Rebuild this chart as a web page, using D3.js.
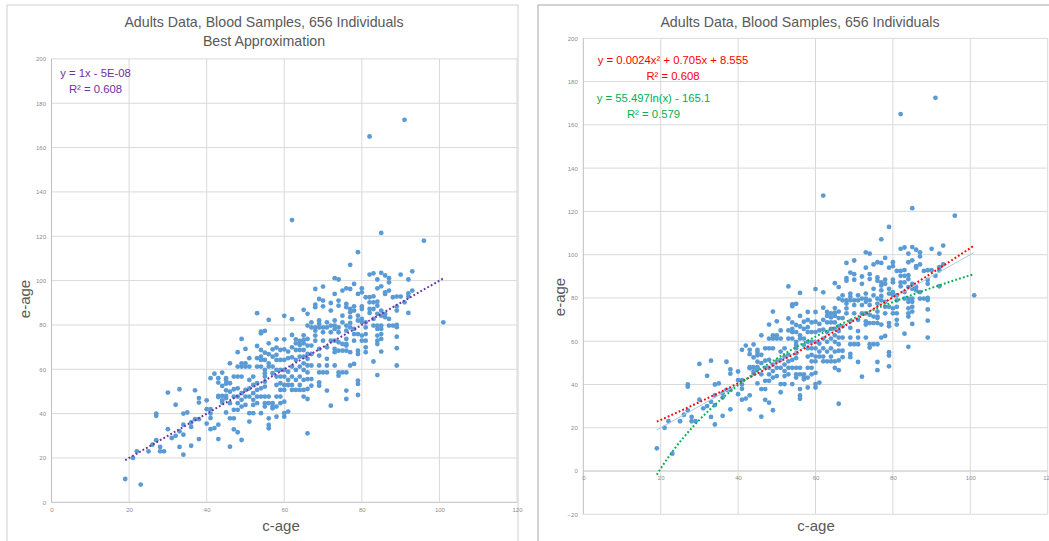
<!DOCTYPE html>
<html><head><meta charset="utf-8">
<script src="https://cdn.jsdelivr.net/npm/d3@7"></script>
<style>body{margin:0;background:#fff}svg{display:block}</style>
</head><body>
<svg id="c" width="1049" height="541"></svg>
<script>
// ---- data: c-age (chronological) vs e-age (estimated) ----
const cAge = [
19,23,21,22,25,27,27,27,26,28,28,29,30,31,32,33,33,32,30,33,34,35,34,34,34,36,36,37,37,38,38,38,38,36,40,40,40,41,41,41,41,42,41,43,44,45,45,43,44,45,43,43,44,44,44,45,45,45,45,43,42,43,
46,46,46,46,46,46,
47,47,47,47,47,47,
48,48,48,48,48,48,48,48,
49,49,49,49,49,49,49,49,
50,50,50,50,50,50,
51,51,51,51,51,51,51,
52,52,52,52,52,52,
53,53,53,53,53,53,53,53,
54,54,54,54,54,54,54,54,54,
55,55,55,55,55,55,55,55,55,55,55,
56,56,56,56,56,56,56,56,56,56,
57,57,57,57,57,57,57,
58,58,58,58,58,58,58,58,58,58,
59,59,59,59,59,59,59,59,
60,60,60,60,60,60,60,60,60,60,60,
61,61,61,61,61,61,
62,62,62,62,62,62,62,62,
63,63,63,63,63,63,63,
64,64,64,64,64,64,64,64,
65,65,65,65,65,65,65,65,65,65,65,
66,66,66,66,66,66,66,66,66,66,66,66,
67,67,67,67,67,67,67,
68,68,68,68,68,68,68,
69,69,69,69,69,69,69,69,69,69,
70,70,70,70,70,70,70,
71,71,71,71,71,71,71,
72,72,72,72,72,72,
73,73,73,73,73,73,73,73,73,
74,74,74,74,74,74,74,74,74,
75,75,75,75,75,75,
76,76,76,76,76,76,76,76,76,76,76,76,
77,77,77,77,77,77,77,77,77,
78,78,78,78,78,78,78,
79,79,79,79,79,79,79,79,79,79,
80,80,80,80,80,80,80,80,
81,81,81,81,81,81,81,
82,82,82,82,82,
83,83,83,83,83,83,83,
84,84,84,84,84,84,84,84,84,84,84,
85,85,85,85,85,85,85,85,85,
86,86,86,86,86,
87,87,87,87,87,
88,88,
89,89,89,89,89,89,89,89,
90,90,91,92,92,92,92,93,93,96,101,
62,82,91,85
];
const eAge = [
10.5,8,20,23,23,28,40,39,26,25,23,23,33,29,30,32,25,44,49.5,51,40,40.5,35,30.5,21.5,36,34,50.5,37.5,47,45,37.5,28.5,25.5,46,42,35.5,42,40,38,33,58,56,56,58.5,56,55,54,52.5,53.5,48,47.5,48,46,45,50.5,48,47,40.5,35,33.5,28.5,
62.7,53.7,49.9,44.7,37.9,25.1,
56.7,51,47.7,41.7,37.9,32.9,
67.7,61.2,56.7,51.4,47.7,44.7,41.7,31.6,
73.7,62.7,61.2,56.7,49.2,46.2,43.2,28.1,
69.2,62.7,61.2,50.7,47.7,43.9,
65,61.2,55.2,51.4,47.7,40.2,36.4,
56.7,52.9,49.2,46.2,43.9,40.2,
85.3,70.5,65,61.2,53.7,50.7,47.7,44.7,
77,76.2,68.7,65.7,64.2,61.2,51.4,47.7,40.2,
77.3,67.5,64.2,59.7,58.2,56.7,54.4,52.2,47.7,44.7,43.2,
82.3,71.7,66.8,62.7,61.2,47.7,44.7,37.9,34.9,33.4,
69,65.7,61.2,58.2,44.7,43.2,42.4,
73.5,69.8,66.5,64.2,59.7,56.7,52.9,47.7,43.2,38.6,
68.7,64.2,59.7,56.7,53.7,50.7,47.7,44.7,
84.1,73.5,69,64.2,59.7,56.7,52.9,50.7,45.4,40.2,38.6,
68,65,58.9,55.2,52.9,40.9,
82.6,75.5,69.9,65.4,61.2,56.7,52.9,50.7,
73.5,71.7,68.7,64.2,59.7,55.2,50.7,
72.8,71,68.7,65.7,61.2,56.7,52.9,50.7,
86.8,75.3,73.2,71.7,68.7,65.7,62.7,59.7,55.2,50.7,47.7,
85,79.7,73.7,70.7,66.9,64.7,61.7,58.6,55.6,51.1,46.6,31.1,
81.2,78.9,70.7,66.9,61.7,55.6,52.6,
96.2,89.2,88,78.9,77.4,75.2,72.9,
91.7,82,80.5,78.9,69.2,66.2,61.7,58.6,54.1,52.6,
97.3,91,88.4,78.9,76.7,72.9,58.6,
81.2,78.9,69.9,64.7,61.7,58.6,50.4,
89.9,86.5,79.7,76.7,72.9,43.6,
101.1,94,82,79.7,78.2,72.9,69.2,67.7,61.7,
100.5,91,88.7,78.9,76.7,72.2,68.4,58.6,57.1,
95.5,84.2,81.2,71.4,68.4,58.6,
96.5,89.5,88,79.7,77.4,73.7,71.4,70.7,68.4,58.6,50.4,46.6,
107.1,96.2,87.2,85.7,83.5,80.9,78.9,67.7,61.7,
98.5,88.4,86.5,78.2,75.9,72.9,62.4,
112.8,94,84.2,82,75.9,68.4,66.9,54.9,53.4,48.4,
96.5,94.7,88.4,87.2,82.7,81.2,75.2,72.9,
92.5,81.2,78.9,75.9,72.9,69.9,67.7,
102.7,92.5,90.2,87.2,85.4,
103.3,92.9,90.2,87.2,82.7,79.7,63.5,
100.5,96.5,90.5,88.7,85,79.7,78.2,75.2,72.9,71.4,57.4,
103.5,97.4,86.5,84.2,79.7,78.2,75.9,73.7,68,
102.3,94.7,94,85,83.5,
101.1,99.2,95.5,82.7,79.7,
92.5,79.7,
92.8,88.3,86.5,80,79,74.7,69.5,61.7,
102.7,92.8,90.2,100.5,94.2,92.8,85.4,104.2,95.5,118,81.2,
127.3,165,172.5,121.5
];
const points = cAge.map((c, i) => ({c, e: eAge[i]}));

const titleMain = "Adults Data, Blood Samples, 656 Individuals";
const titleSub = "Best Approximation";
const xTicks = [0, 20, 40, 60, 80, 100, 120];
const yTicksLeft = [0, 20, 40, 60, 80, 100, 120, 140, 160, 180, 200];
const yTicksRight = [-20, 0, 20, 40, 60, 80, 100, 120, 140, 160, 180, 200];
// trendline equations shown on the chart
const linEq = {a: 1, b: -5e-8, label: "y = 1x - 5E-08", r2: "R² = 0.608"};
const polyEq = {a: 0.0024, b: 0.705, c: 8.555, label: "y = 0.0024x² + 0.705x + 8.555", r2: "R² = 0.608"};
const logEq = {a: 55.497, b: -165.1, label: "y = 55.497ln(x) - 165.1", r2: "R² = 0.579"};
const fitRange = [19, 101];

const svg = d3.select("#c");
const FONT = "'Liberation Sans', Arial, sans-serif";
const GRID = "#d9d9d9", TICK = "#8c8c8c", TITLE = "#595959", DOT = "#5b9bd5";

function panel(o) {
  const g = svg.append("g");
  // border
  g.append("rect").attr("x", o.bx).attr("y", 5).attr("width", o.bw).attr("height", 560)
    .attr("fill", "#fff").attr("stroke", o.border).attr("stroke-width", 1);
  const x = d3.scaleLinear().domain([0, 120]).range(o.xr);
  const y = d3.scaleLinear().domain(o.yd).range(o.yr);
  // grid
  g.append("g").selectAll("line").data(o.yTicks).join("line")
    .attr("x1", o.xr[0]).attr("x2", o.xr[1]).attr("y1", d => y(d)).attr("y2", d => y(d))
    .attr("stroke", d => d === 0 ? "#bfbfbf" : GRID).attr("stroke-width", 1);
  g.append("g").selectAll("line").data(xTicks).join("line")
    .attr("x1", d => x(d)).attr("x2", d => x(d)).attr("y1", o.yr[0]).attr("y2", o.yr[1])
    .attr("stroke", d => d === 0 ? "#bfbfbf" : GRID).attr("stroke-width", 1);
  // axes labels via d3 axes
  const ay = g.append("g").attr("transform", `translate(${o.xr[0]},0)`)
    .call(d3.axisLeft(y).tickValues(o.yTicks).tickSize(0).tickPadding(5.5));
  ay.select(".domain").remove();
  ay.selectAll("text").attr("font-size", 6).attr("fill", TICK).attr("font-family", FONT);
  const ax = g.append("g").attr("transform", `translate(0,${y(0)})`)
    .call(d3.axisBottom(x).tickValues(xTicks).tickSize(0).tickPadding(5));
  ax.select(".domain").remove();
  ax.selectAll("text").attr("font-size", 6).attr("fill", TICK).attr("font-family", FONT);
  // points
  g.append("g").selectAll("circle").data(points).join("circle")
    .attr("cx", d => x(d.c)).attr("cy", d => y(d.e)).attr("r", 2.4).attr("fill", DOT);
  // titles
  o.titles.forEach(t => g.append("text").attr("x", t.x).attr("y", t.y).attr("text-anchor", "middle")
    .attr("font-family", FONT).attr("font-size", 14.2).attr("fill", TITLE).text(t.s));
  g.append("text").attr("x", o.xTitleX).attr("y", 531).attr("text-anchor", "middle")
    .attr("font-family", FONT).attr("font-size", 15).attr("fill", TITLE).text("c-age");
  g.append("text").attr("transform", `translate(${o.yTitleX},${o.yTitleY}) rotate(-90)`)
    .attr("text-anchor", "middle").attr("font-family", FONT).attr("font-size", 15)
    .attr("fill", TITLE).text("e-age");
  return {g, x, y};
}

const L = panel({bx: 7, bw: 511, border: "#d0d0d0", xr: [51.5, 517], yd: [0, 200], yr: [502.3, 58.9],
  yTicks: yTicksLeft, titles: [{x: 264, y: 27, s: titleMain}, {x: 264, y: 46, s: titleSub}],
  xTitleX: 281, yTitleX: 30, yTitleY: 299});
const R = panel({bx: 538, bw: 530, border: "#a6a6a6", xr: [583.3, 1047.7], yd: [-20, 200], yr: [514.3, 38.3],
  yTicks: yTicksRight, titles: [{x: 800, y: 26.5, s: titleMain}],
  xTitleX: 816, yTitleX: 565, yTitleY: 297});

const xs = d3.range(fitRange[0], fitRange[1] + 0.01, 1);
function trend(P, f, color, w, dash) {
  const line = d3.line().x(v => P.x(v)).y(v => P.y(f(v)));
  P.g.append("path").attr("d", line(xs)).attr("fill", "none").attr("stroke", color)
    .attr("stroke-width", w).attr("stroke-dasharray", dash);
}
trend(L, v => linEq.a * v + linEq.b, "#7030a0", 2, "1.8,2.2");
trend(R, v => linEq.a * v + linEq.b, "#a9c8e8", 1, null);
trend(R, v => polyEq.a * v * v + polyEq.b * v + polyEq.c, "#ff0000", 2, "1.8,2.2");
trend(R, v => logEq.a * Math.log(v) + logEq.b, "#00b050", 2, "1.8,2.2");

function label(P, cx, y1, y2, eq, color) {
  [[y1, eq.label], [y2, eq.r2]].forEach(([yy, s]) =>
    P.g.append("text").attr("x", cx).attr("y", yy).attr("text-anchor", "middle")
      .attr("font-family", FONT).attr("font-size", 11.3).attr("fill", color).text(s));
}
label(L, 95.5, 77, 93, linEq, "#7030a0");
label(R, 673, 64, 79.5, polyEq, "#ff0000");
label(R, 653.5, 101.5, 117.5, logEq, "#00b050");
</script>
</body></html>
